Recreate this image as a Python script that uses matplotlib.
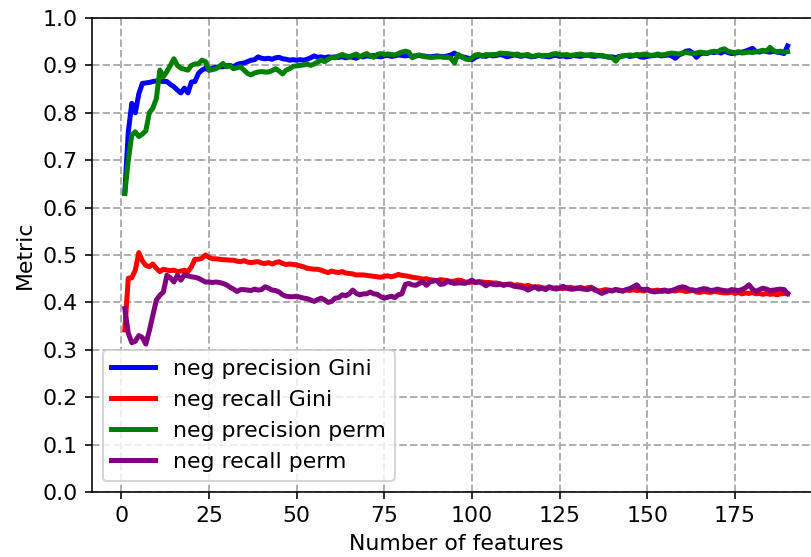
import matplotlib
matplotlib.use('Agg')
import matplotlib.pyplot as plt
import numpy as np

# number of features used
n_features = list(range(1, 191))

prec_gini = [
    0.63, 0.76, 0.82, 0.80, 0.84, 0.862, 0.863, 0.864, 0.866, 0.867,
    0.867, 0.866, 0.866, 0.86, 0.855, 0.848, 0.842, 0.852, 0.842, 0.865,
    0.866, 0.883, 0.890, 0.894, 0.890, 0.894, 0.896, 0.897, 0.897, 0.899,
    0.900, 0.897, 0.902, 0.904, 0.905, 0.908, 0.911, 0.912, 0.918, 0.915,
    0.914, 0.915, 0.913, 0.916, 0.917, 0.914, 0.913, 0.911, 0.912, 0.911,
    0.912, 0.911, 0.913, 0.916, 0.920, 0.917, 0.918, 0.916, 0.918, 0.917,
    0.918, 0.917, 0.918, 0.916, 0.918, 0.917, 0.915, 0.919, 0.918, 0.920,
    0.919, 0.921, 0.919, 0.918, 0.920, 0.921, 0.919, 0.920, 0.922, 0.921,
    0.920, 0.921, 0.919, 0.920, 0.921, 0.920, 0.919, 0.918, 0.919, 0.920,
    0.919, 0.918, 0.920, 0.922, 0.926, 0.921, 0.918, 0.917, 0.915, 0.912,
    0.917, 0.920, 0.921, 0.919, 0.922, 0.920, 0.921, 0.923, 0.921, 0.918,
    0.920, 0.922, 0.921, 0.919, 0.921, 0.920, 0.918, 0.919, 0.921, 0.920,
    0.919, 0.918, 0.920, 0.921, 0.919, 0.920, 0.918, 0.919, 0.921, 0.920,
    0.919, 0.921, 0.922, 0.920, 0.919, 0.921, 0.920, 0.919, 0.917, 0.918,
    0.916, 0.919, 0.920, 0.921, 0.919, 0.920, 0.922, 0.918, 0.917, 0.919,
    0.920, 0.921, 0.922, 0.920, 0.921, 0.922, 0.920, 0.915, 0.922, 0.925,
    0.930, 0.931, 0.926, 0.917, 0.924, 0.926, 0.925, 0.928, 0.927, 0.929,
    0.926, 0.930, 0.927, 0.925, 0.926, 0.927, 0.928, 0.930, 0.933, 0.936,
    0.929, 0.928, 0.931, 0.929, 0.928, 0.930, 0.928, 0.927, 0.925, 0.941,
]

rec_gini = [
    0.342, 0.451, 0.452, 0.468, 0.505, 0.488, 0.478, 0.475, 0.481, 0.472,
    0.465, 0.470, 0.468, 0.467, 0.468, 0.465, 0.466, 0.468, 0.465, 0.475,
    0.491, 0.491, 0.493, 0.500, 0.495, 0.492, 0.492, 0.491, 0.490, 0.490,
    0.489, 0.489, 0.487, 0.486, 0.488, 0.485, 0.484, 0.485, 0.486, 0.483,
    0.482, 0.484, 0.481, 0.484, 0.486, 0.482, 0.480, 0.481, 0.480, 0.479,
    0.477, 0.475, 0.472, 0.471, 0.470, 0.470, 0.468, 0.465, 0.463, 0.466,
    0.464, 0.463, 0.465, 0.462, 0.461, 0.460, 0.458, 0.458, 0.458, 0.457,
    0.456, 0.455, 0.454, 0.453, 0.455, 0.456, 0.454, 0.456, 0.459, 0.457,
    0.456, 0.455, 0.453, 0.452, 0.451, 0.449, 0.450, 0.448, 0.447, 0.446,
    0.448, 0.447, 0.446, 0.444, 0.445, 0.447, 0.446, 0.443, 0.442, 0.443,
    0.442, 0.444, 0.443, 0.442, 0.442, 0.441, 0.441, 0.439, 0.437, 0.438,
    0.439, 0.436, 0.437, 0.436, 0.434, 0.436, 0.433, 0.432, 0.433, 0.431,
    0.430, 0.431, 0.430, 0.431, 0.430, 0.429, 0.431, 0.432, 0.430, 0.430,
    0.432, 0.429, 0.431, 0.432, 0.426, 0.424, 0.425, 0.427, 0.426, 0.425,
    0.427, 0.426, 0.424, 0.426, 0.425, 0.427, 0.425, 0.426, 0.424, 0.426,
    0.424, 0.425, 0.426, 0.423, 0.424, 0.423, 0.425, 0.424, 0.426, 0.425,
    0.423, 0.424, 0.426, 0.422, 0.421, 0.423, 0.422, 0.421, 0.423, 0.422,
    0.421, 0.420, 0.420, 0.422, 0.419, 0.421, 0.418, 0.420, 0.419, 0.421,
    0.418, 0.419, 0.417, 0.419, 0.417, 0.418, 0.416, 0.418, 0.419, 0.418,
]

prec_perm = [
    0.63, 0.70, 0.753, 0.760, 0.750, 0.755, 0.762, 0.800, 0.810, 0.830,
    0.890, 0.876, 0.887, 0.900, 0.914, 0.900, 0.894, 0.892, 0.890, 0.900,
    0.903, 0.903, 0.911, 0.908, 0.890, 0.891, 0.893, 0.898, 0.904, 0.897,
    0.899, 0.893, 0.895, 0.897, 0.890, 0.883, 0.880, 0.884, 0.886, 0.887,
    0.886, 0.886, 0.889, 0.893, 0.888, 0.882, 0.890, 0.893, 0.898, 0.899,
    0.900, 0.901, 0.903, 0.900, 0.903, 0.907, 0.911, 0.908, 0.913, 0.917,
    0.916, 0.920, 0.923, 0.920, 0.918, 0.921, 0.924, 0.918, 0.922, 0.925,
    0.920, 0.917, 0.923, 0.925, 0.923, 0.924, 0.923, 0.922, 0.925, 0.928,
    0.930, 0.928, 0.916, 0.920, 0.922, 0.919, 0.918, 0.917, 0.917, 0.918,
    0.918, 0.917, 0.917, 0.915, 0.905, 0.923, 0.919, 0.914, 0.912, 0.916,
    0.922, 0.923, 0.919, 0.923, 0.922, 0.923, 0.923, 0.926, 0.925, 0.925,
    0.924, 0.923, 0.924, 0.921, 0.922, 0.923, 0.919, 0.920, 0.922, 0.920,
    0.921, 0.921, 0.924, 0.925, 0.923, 0.922, 0.923, 0.921, 0.922, 0.923,
    0.924, 0.922, 0.921, 0.923, 0.922, 0.920, 0.921, 0.919, 0.918, 0.916,
    0.909, 0.918, 0.920, 0.921, 0.922, 0.921, 0.923, 0.922, 0.924, 0.923,
    0.921, 0.922, 0.924, 0.922, 0.923, 0.925, 0.926, 0.925, 0.924, 0.926,
    0.927, 0.926, 0.925, 0.926, 0.928, 0.927, 0.926, 0.928, 0.930, 0.928,
    0.933, 0.935, 0.930, 0.928, 0.927, 0.929, 0.926, 0.927, 0.928, 0.927,
    0.929, 0.930, 0.932, 0.930, 0.938, 0.931, 0.929, 0.930, 0.928, 0.929,
]

rec_perm = [
    0.387, 0.335, 0.315, 0.318, 0.330, 0.326, 0.312, 0.340, 0.372, 0.405,
    0.415, 0.422, 0.457, 0.452, 0.443, 0.457, 0.447, 0.458, 0.456, 0.454,
    0.453, 0.451, 0.447, 0.443, 0.443, 0.442, 0.443, 0.442, 0.440, 0.437,
    0.432, 0.428, 0.423, 0.427, 0.427, 0.426, 0.425, 0.428, 0.426, 0.427,
    0.433, 0.430, 0.426, 0.425, 0.422, 0.416, 0.413, 0.412, 0.412, 0.413,
    0.411, 0.409, 0.408, 0.405, 0.402, 0.406, 0.409, 0.405, 0.400, 0.402,
    0.409, 0.410, 0.416, 0.414, 0.418, 0.426, 0.419, 0.416, 0.418, 0.418,
    0.422, 0.418, 0.417, 0.412, 0.409, 0.411, 0.413, 0.410, 0.416, 0.418,
    0.438, 0.440, 0.437, 0.436, 0.440, 0.443, 0.436, 0.443, 0.445, 0.446,
    0.438, 0.439, 0.444, 0.442, 0.440, 0.441, 0.441, 0.440, 0.443, 0.447,
    0.442, 0.443, 0.440, 0.435, 0.440, 0.438, 0.437, 0.439, 0.436, 0.438,
    0.437, 0.434, 0.433, 0.432, 0.430, 0.426, 0.430, 0.433, 0.428, 0.430,
    0.427, 0.433, 0.430, 0.428, 0.430, 0.434, 0.430, 0.428, 0.428, 0.430,
    0.429, 0.428, 0.427, 0.430, 0.428, 0.423, 0.419, 0.422, 0.425, 0.424,
    0.427, 0.425, 0.424, 0.427, 0.429, 0.433, 0.437, 0.428, 0.427, 0.428,
    0.424, 0.422, 0.423, 0.425, 0.426, 0.424, 0.425, 0.428, 0.431, 0.433,
    0.431, 0.427, 0.426, 0.425, 0.427, 0.429, 0.428, 0.425, 0.426, 0.428,
    0.426, 0.425, 0.424, 0.427, 0.426, 0.425, 0.427, 0.431, 0.437, 0.428,
    0.423, 0.427, 0.430, 0.428, 0.425, 0.426, 0.427, 0.428, 0.427, 0.419,
]

y_ticks = np.arange(0, 1.01, 0.1)
x_ticks = [0, 25, 50, 75, 100, 125, 150, 175]

plt.rcParams['font.size'] = 11

fig = plt.figure(figsize=(811 / 144, 557 / 144), dpi=144)
ax = fig.add_axes([0.113, 0.1167, 0.899, 0.851])

ax.plot(n_features, prec_gini, c='blue', lw=2.5, label='neg precision Gini')
ax.plot(n_features, rec_gini, c='red', lw=2.5, label='neg recall Gini')
ax.plot(n_features, prec_perm, c='green', lw=2.5, label='neg precision perm')
ax.plot(n_features, rec_perm, c='purple', lw=2.5, label='neg recall perm')

ax.set_ylim(0, 1)
ax.set_yticks(y_ticks)
ax.set_xticks(x_ticks)
ax.grid(True, linestyle='--', color='#b0b0b0', lw=1)
ax.set_xlabel('Number of features')
ax.set_ylabel('Metric')
ax.legend(loc='lower left')

fig.savefig('out.png', dpi=144)
